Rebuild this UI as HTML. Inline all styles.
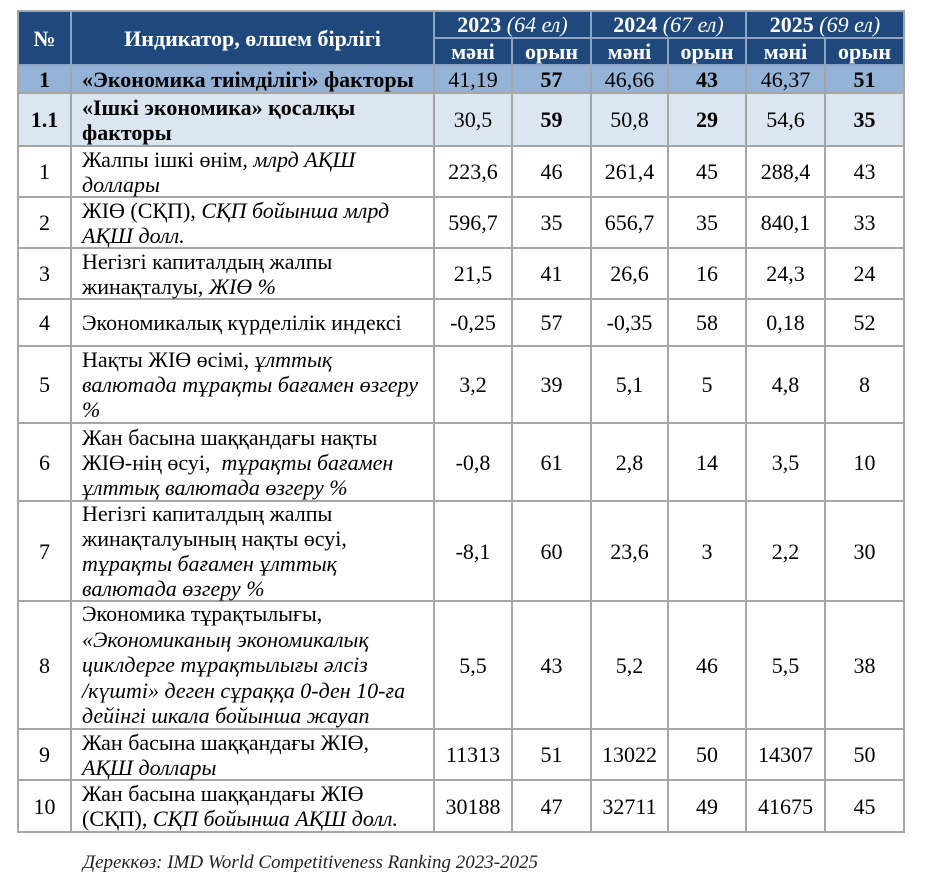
<!DOCTYPE html>
<html><head><meta charset="utf-8"><style>
body{margin:0;width:925px;height:891px;background:#fff;position:relative;font-family:"Liberation Serif","DejaVu Serif",serif;color:#000;}
.c{position:absolute;box-sizing:border-box;display:flex;align-items:center;justify-content:center;font-size:22px;line-height:25px;border-right:2px solid #a6a6a6;border-bottom:2px solid #a6a6a6;text-align:center;white-space:nowrap}
.l{justify-content:flex-start;text-align:left;padding-left:10px}
.h{background:#1f497d;color:#fff;font-weight:bold;border-color:#8ea4c0}
.r1{background:#95b3d7;font-weight:bold}
.r2{background:#dce6f1;font-weight:bold}
i{font-style:italic}
.src{position:absolute;left:83px;top:852px;font-size:19px;font-style:italic;color:#222}
</style></head><body>
<div style="position:absolute;left:17px;top:10px;width:2px;height:823px;background:#a6a6a6"></div>
<div style="position:absolute;left:17px;top:10px;width:888px;height:2px;background:#a6a6a6"></div>

<div class="c h" style="left:19px;top:12px;width:53px;height:54px">№</div>
<div class="c h" style="left:72px;top:12px;width:363px;height:54px">Индикатор, өлшем бірлігі</div>
<div class="c h" style="left:435px;top:12px;width:157px;height:27px">2023&nbsp;<i style="font-weight:normal">(64 ел)</i></div>
<div class="c h" style="left:592px;top:12px;width:155px;height:27px">2024&nbsp;<i style="font-weight:normal">(67 ел)</i></div>
<div class="c h" style="left:747px;top:12px;width:158px;height:27px">2025&nbsp;<i style="font-weight:normal">(69 ел)</i></div>
<div class="c h" style="left:435px;top:39px;width:78px;height:27px">мәні</div>
<div class="c h" style="left:513px;top:39px;width:79px;height:27px">орын</div>
<div class="c h" style="left:592px;top:39px;width:77px;height:27px">мәні</div>
<div class="c h" style="left:669px;top:39px;width:78px;height:27px">орын</div>
<div class="c h" style="left:747px;top:39px;width:79px;height:27px">мәні</div>
<div class="c h" style="left:826px;top:39px;width:79px;height:27px">орын</div>

<div class="c r1" style="left:19px;top:66px;width:53px;height:28px">1</div>
<div class="c r1 l" style="left:72px;top:66px;width:363px;height:28px">«Экономика тиімділігі» факторы</div>
<div class="c r1" style="left:435px;top:66px;width:78px;height:28px;font-weight:normal">41,19</div>
<div class="c r1" style="left:513px;top:66px;width:79px;height:28px">57</div>
<div class="c r1" style="left:592px;top:66px;width:77px;height:28px;font-weight:normal">46,66</div>
<div class="c r1" style="left:669px;top:66px;width:78px;height:28px">43</div>
<div class="c r1" style="left:747px;top:66px;width:79px;height:28px;font-weight:normal">46,37</div>
<div class="c r1" style="left:826px;top:66px;width:79px;height:28px">51</div>

<div class="c r2" style="left:19px;top:94px;width:53px;height:53px">1.1</div>
<div class="c r2 l" style="left:72px;top:94px;width:363px;height:53px">«Ішкі экономика» қосалқы<br>факторы</div>
<div class="c r2" style="left:435px;top:94px;width:78px;height:53px;font-weight:normal">30,5</div>
<div class="c r2" style="left:513px;top:94px;width:79px;height:53px">59</div>
<div class="c r2" style="left:592px;top:94px;width:77px;height:53px;font-weight:normal">50,8</div>
<div class="c r2" style="left:669px;top:94px;width:78px;height:53px">29</div>
<div class="c r2" style="left:747px;top:94px;width:79px;height:53px;font-weight:normal">54,6</div>
<div class="c r2" style="left:826px;top:94px;width:79px;height:53px">35</div>

<div class="c" style="left:19px;top:147px;width:53px;height:51px">1</div>
<div class="c l" style="left:72px;top:147px;width:363px;height:51px"><span>Жалпы ішкі өнім, <i>млрд АҚШ<br>доллары</i></span></div>
<div class="c" style="left:435px;top:147px;width:78px;height:51px">223,6</div>
<div class="c" style="left:513px;top:147px;width:79px;height:51px">46</div>
<div class="c" style="left:592px;top:147px;width:77px;height:51px">261,4</div>
<div class="c" style="left:669px;top:147px;width:78px;height:51px">45</div>
<div class="c" style="left:747px;top:147px;width:79px;height:51px">288,4</div>
<div class="c" style="left:826px;top:147px;width:79px;height:51px">43</div>

<div class="c" style="left:19px;top:198px;width:53px;height:51px">2</div>
<div class="c l" style="left:72px;top:198px;width:363px;height:51px"><span>ЖІӨ (СҚП), <i>СҚП бойынша млрд<br>АҚШ долл.</i></span></div>
<div class="c" style="left:435px;top:198px;width:78px;height:51px">596,7</div>
<div class="c" style="left:513px;top:198px;width:79px;height:51px">35</div>
<div class="c" style="left:592px;top:198px;width:77px;height:51px">656,7</div>
<div class="c" style="left:669px;top:198px;width:78px;height:51px">35</div>
<div class="c" style="left:747px;top:198px;width:79px;height:51px">840,1</div>
<div class="c" style="left:826px;top:198px;width:79px;height:51px">33</div>

<div class="c" style="left:19px;top:249px;width:53px;height:51px">3</div>
<div class="c l" style="left:72px;top:249px;width:363px;height:51px"><span>Негізгі капиталдың жалпы<br>жинақталуы, <i>ЖІӨ %</i></span></div>
<div class="c" style="left:435px;top:249px;width:78px;height:51px">21,5</div>
<div class="c" style="left:513px;top:249px;width:79px;height:51px">41</div>
<div class="c" style="left:592px;top:249px;width:77px;height:51px">26,6</div>
<div class="c" style="left:669px;top:249px;width:78px;height:51px">16</div>
<div class="c" style="left:747px;top:249px;width:79px;height:51px">24,3</div>
<div class="c" style="left:826px;top:249px;width:79px;height:51px">24</div>

<div class="c" style="left:19px;top:300px;width:53px;height:47px">4</div>
<div class="c l" style="left:72px;top:300px;width:363px;height:47px">Экономикалық күрделілік индексі</div>
<div class="c" style="left:435px;top:300px;width:78px;height:47px">-0,25</div>
<div class="c" style="left:513px;top:300px;width:79px;height:47px">57</div>
<div class="c" style="left:592px;top:300px;width:77px;height:47px">-0,35</div>
<div class="c" style="left:669px;top:300px;width:78px;height:47px">58</div>
<div class="c" style="left:747px;top:300px;width:79px;height:47px">0,18</div>
<div class="c" style="left:826px;top:300px;width:79px;height:47px">52</div>

<div class="c" style="left:19px;top:347px;width:53px;height:77px">5</div>
<div class="c l" style="left:72px;top:347px;width:363px;height:77px"><span>Нақты ЖІӨ өсімі, <i>ұлттық<br>валютада тұрақты бағамен өзгеру<br>%</i></span></div>
<div class="c" style="left:435px;top:347px;width:78px;height:77px">3,2</div>
<div class="c" style="left:513px;top:347px;width:79px;height:77px">39</div>
<div class="c" style="left:592px;top:347px;width:77px;height:77px">5,1</div>
<div class="c" style="left:669px;top:347px;width:78px;height:77px">5</div>
<div class="c" style="left:747px;top:347px;width:79px;height:77px">4,8</div>
<div class="c" style="left:826px;top:347px;width:79px;height:77px">8</div>

<div class="c" style="left:19px;top:424px;width:53px;height:78px">6</div>
<div class="c l" style="left:72px;top:424px;width:363px;height:78px"><span>Жан басына шаққандағы нақты<br>ЖІӨ-нің өсуі,&nbsp; <i>тұрақты бағамен<br>ұлттық валютада өзгеру %</i></span></div>
<div class="c" style="left:435px;top:424px;width:78px;height:78px">-0,8</div>
<div class="c" style="left:513px;top:424px;width:79px;height:78px">61</div>
<div class="c" style="left:592px;top:424px;width:77px;height:78px">2,8</div>
<div class="c" style="left:669px;top:424px;width:78px;height:78px">14</div>
<div class="c" style="left:747px;top:424px;width:79px;height:78px">3,5</div>
<div class="c" style="left:826px;top:424px;width:79px;height:78px">10</div>

<div class="c" style="left:19px;top:502px;width:53px;height:100px">7</div>
<div class="c l" style="left:72px;top:502px;width:363px;height:100px"><span>Негізгі капиталдың жалпы<br>жинақталуының нақты өсуі,<br><i>тұрақты бағамен ұлттық<br>валютада өзгеру %</i></span></div>
<div class="c" style="left:435px;top:502px;width:78px;height:100px">-8,1</div>
<div class="c" style="left:513px;top:502px;width:79px;height:100px">60</div>
<div class="c" style="left:592px;top:502px;width:77px;height:100px">23,6</div>
<div class="c" style="left:669px;top:502px;width:78px;height:100px">3</div>
<div class="c" style="left:747px;top:502px;width:79px;height:100px">2,2</div>
<div class="c" style="left:826px;top:502px;width:79px;height:100px">30</div>

<div class="c" style="left:19px;top:602px;width:53px;height:128px">8</div>
<div class="c l" style="left:72px;top:602px;width:363px;height:128px;line-height:25.5px"><span>Экономика тұрақтылығы,<br><i>«Экономиканың экономикалық<br>циклдерге тұрақтылығы әлсіз<br>/күшті» деген сұраққа 0-ден 10-ға<br>дейінгі шкала бойынша жауап</i></span></div>
<div class="c" style="left:435px;top:602px;width:78px;height:128px">5,5</div>
<div class="c" style="left:513px;top:602px;width:79px;height:128px">43</div>
<div class="c" style="left:592px;top:602px;width:77px;height:128px">5,2</div>
<div class="c" style="left:669px;top:602px;width:78px;height:128px">46</div>
<div class="c" style="left:747px;top:602px;width:79px;height:128px">5,5</div>
<div class="c" style="left:826px;top:602px;width:79px;height:128px">38</div>

<div class="c" style="left:19px;top:730px;width:53px;height:51px">9</div>
<div class="c l" style="left:72px;top:730px;width:363px;height:51px"><span>Жан басына шаққандағы ЖІӨ,<br><i>АҚШ доллары</i></span></div>
<div class="c" style="left:435px;top:730px;width:78px;height:51px">11313</div>
<div class="c" style="left:513px;top:730px;width:79px;height:51px">51</div>
<div class="c" style="left:592px;top:730px;width:77px;height:51px">13022</div>
<div class="c" style="left:669px;top:730px;width:78px;height:51px">50</div>
<div class="c" style="left:747px;top:730px;width:79px;height:51px">14307</div>
<div class="c" style="left:826px;top:730px;width:79px;height:51px">50</div>

<div class="c" style="left:19px;top:781px;width:53px;height:52px">10</div>
<div class="c l" style="left:72px;top:781px;width:363px;height:52px"><span>Жан басына шаққандағы ЖІӨ<br>(СҚП), <i>СҚП бойынша АҚШ долл.</i></span></div>
<div class="c" style="left:435px;top:781px;width:78px;height:52px">30188</div>
<div class="c" style="left:513px;top:781px;width:79px;height:52px">47</div>
<div class="c" style="left:592px;top:781px;width:77px;height:52px">32711</div>
<div class="c" style="left:669px;top:781px;width:78px;height:52px">49</div>
<div class="c" style="left:747px;top:781px;width:79px;height:52px">41675</div>
<div class="c" style="left:826px;top:781px;width:79px;height:52px">45</div>

<div class="src">Дереккөз: IMD World Competitiveness Ranking 2023-2025</div>
</body></html>
